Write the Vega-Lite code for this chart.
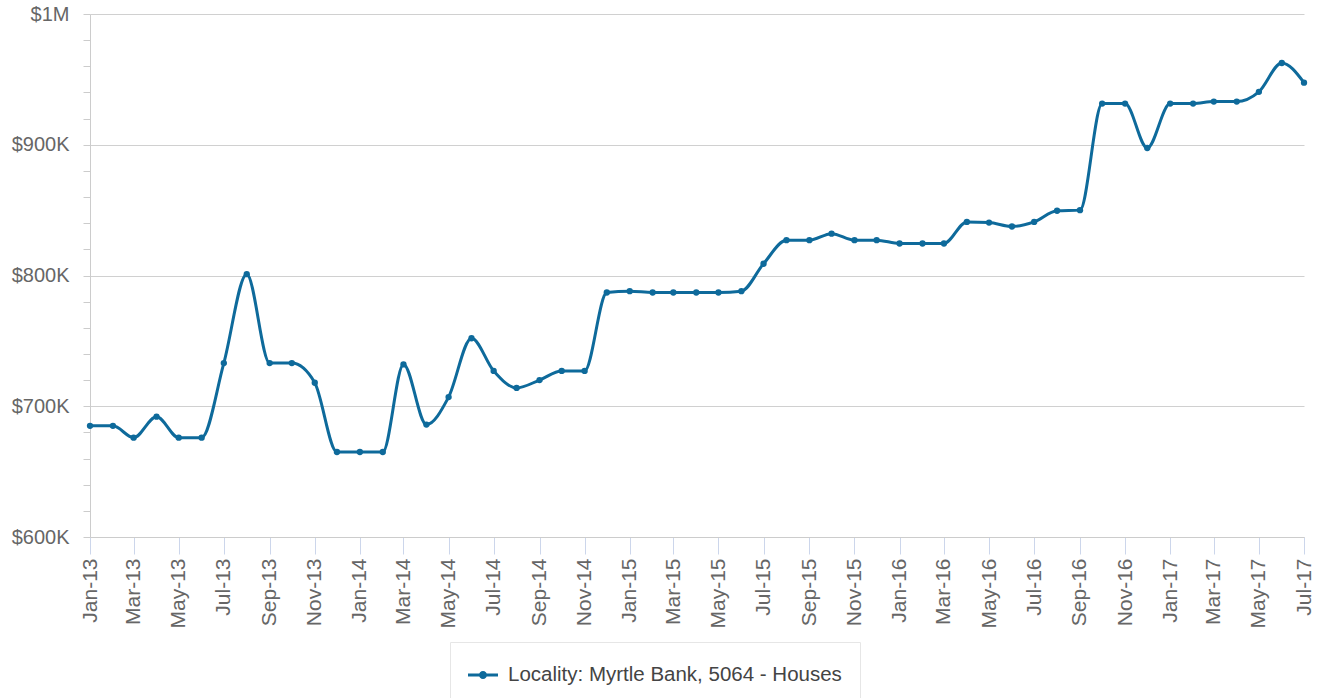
{
  "$schema": "https://vega.github.io/schema/vega-lite/v6.json",
  "autosize": "none",
  "width": 1214,
  "height": 523,
  "padding": {"left": 90, "top": 14, "right": 16, "bottom": 161},
  "background": "white",
  "config": {
    "view": {"stroke": null},
    "font": "Liberation Sans"
  },
  "data": {
    "values": [
      {"date": "2013/01/01", "price": 685000, "series": "Locality: Myrtle Bank, 5064 - Houses"},
      {"date": "2013/02/01", "price": 685000, "series": "Locality: Myrtle Bank, 5064 - Houses"},
      {"date": "2013/03/01", "price": 676000, "series": "Locality: Myrtle Bank, 5064 - Houses"},
      {"date": "2013/04/01", "price": 692000, "series": "Locality: Myrtle Bank, 5064 - Houses"},
      {"date": "2013/05/01", "price": 676000, "series": "Locality: Myrtle Bank, 5064 - Houses"},
      {"date": "2013/06/01", "price": 676000, "series": "Locality: Myrtle Bank, 5064 - Houses"},
      {"date": "2013/07/01", "price": 733000, "series": "Locality: Myrtle Bank, 5064 - Houses"},
      {"date": "2013/08/01", "price": 801000, "series": "Locality: Myrtle Bank, 5064 - Houses"},
      {"date": "2013/09/01", "price": 733000, "series": "Locality: Myrtle Bank, 5064 - Houses"},
      {"date": "2013/10/01", "price": 733000, "series": "Locality: Myrtle Bank, 5064 - Houses"},
      {"date": "2013/11/01", "price": 718000, "series": "Locality: Myrtle Bank, 5064 - Houses"},
      {"date": "2013/12/01", "price": 665000, "series": "Locality: Myrtle Bank, 5064 - Houses"},
      {"date": "2014/01/01", "price": 665000, "series": "Locality: Myrtle Bank, 5064 - Houses"},
      {"date": "2014/02/01", "price": 665000, "series": "Locality: Myrtle Bank, 5064 - Houses"},
      {"date": "2014/03/01", "price": 732000, "series": "Locality: Myrtle Bank, 5064 - Houses"},
      {"date": "2014/04/01", "price": 686000, "series": "Locality: Myrtle Bank, 5064 - Houses"},
      {"date": "2014/05/01", "price": 707000, "series": "Locality: Myrtle Bank, 5064 - Houses"},
      {"date": "2014/06/01", "price": 752000, "series": "Locality: Myrtle Bank, 5064 - Houses"},
      {"date": "2014/07/01", "price": 727000, "series": "Locality: Myrtle Bank, 5064 - Houses"},
      {"date": "2014/08/01", "price": 714000, "series": "Locality: Myrtle Bank, 5064 - Houses"},
      {"date": "2014/09/01", "price": 720000, "series": "Locality: Myrtle Bank, 5064 - Houses"},
      {"date": "2014/10/01", "price": 727000, "series": "Locality: Myrtle Bank, 5064 - Houses"},
      {"date": "2014/11/01", "price": 727000, "series": "Locality: Myrtle Bank, 5064 - Houses"},
      {"date": "2014/12/01", "price": 787000, "series": "Locality: Myrtle Bank, 5064 - Houses"},
      {"date": "2015/01/01", "price": 788000, "series": "Locality: Myrtle Bank, 5064 - Houses"},
      {"date": "2015/02/01", "price": 787000, "series": "Locality: Myrtle Bank, 5064 - Houses"},
      {"date": "2015/03/01", "price": 787000, "series": "Locality: Myrtle Bank, 5064 - Houses"},
      {"date": "2015/04/01", "price": 787000, "series": "Locality: Myrtle Bank, 5064 - Houses"},
      {"date": "2015/05/01", "price": 787000, "series": "Locality: Myrtle Bank, 5064 - Houses"},
      {"date": "2015/06/01", "price": 788000, "series": "Locality: Myrtle Bank, 5064 - Houses"},
      {"date": "2015/07/01", "price": 809000, "series": "Locality: Myrtle Bank, 5064 - Houses"},
      {"date": "2015/08/01", "price": 827000, "series": "Locality: Myrtle Bank, 5064 - Houses"},
      {"date": "2015/09/01", "price": 827000, "series": "Locality: Myrtle Bank, 5064 - Houses"},
      {"date": "2015/10/01", "price": 832000, "series": "Locality: Myrtle Bank, 5064 - Houses"},
      {"date": "2015/11/01", "price": 827000, "series": "Locality: Myrtle Bank, 5064 - Houses"},
      {"date": "2015/12/01", "price": 827000, "series": "Locality: Myrtle Bank, 5064 - Houses"},
      {"date": "2016/01/01", "price": 824500, "series": "Locality: Myrtle Bank, 5064 - Houses"},
      {"date": "2016/02/01", "price": 824500, "series": "Locality: Myrtle Bank, 5064 - Houses"},
      {"date": "2016/03/01", "price": 824500, "series": "Locality: Myrtle Bank, 5064 - Houses"},
      {"date": "2016/04/01", "price": 841000, "series": "Locality: Myrtle Bank, 5064 - Houses"},
      {"date": "2016/05/01", "price": 840500, "series": "Locality: Myrtle Bank, 5064 - Houses"},
      {"date": "2016/06/01", "price": 837500, "series": "Locality: Myrtle Bank, 5064 - Houses"},
      {"date": "2016/07/01", "price": 841000, "series": "Locality: Myrtle Bank, 5064 - Houses"},
      {"date": "2016/08/01", "price": 849500, "series": "Locality: Myrtle Bank, 5064 - Houses"},
      {"date": "2016/09/01", "price": 850000, "series": "Locality: Myrtle Bank, 5064 - Houses"},
      {"date": "2016/10/01", "price": 931500, "series": "Locality: Myrtle Bank, 5064 - Houses"},
      {"date": "2016/11/01", "price": 931500, "series": "Locality: Myrtle Bank, 5064 - Houses"},
      {"date": "2016/12/01", "price": 897500, "series": "Locality: Myrtle Bank, 5064 - Houses"},
      {"date": "2017/01/01", "price": 931500, "series": "Locality: Myrtle Bank, 5064 - Houses"},
      {"date": "2017/02/01", "price": 931500, "series": "Locality: Myrtle Bank, 5064 - Houses"},
      {"date": "2017/03/01", "price": 933000, "series": "Locality: Myrtle Bank, 5064 - Houses"},
      {"date": "2017/04/01", "price": 933000, "series": "Locality: Myrtle Bank, 5064 - Houses"},
      {"date": "2017/05/01", "price": 940500, "series": "Locality: Myrtle Bank, 5064 - Houses"},
      {"date": "2017/06/01", "price": 962500, "series": "Locality: Myrtle Bank, 5064 - Houses"},
      {"date": "2017/07/01", "price": 947500, "series": "Locality: Myrtle Bank, 5064 - Houses"}
    ]
  },
  "encoding": {
    "x": {
      "field": "date",
      "type": "temporal",
      "scale": {
        "domain": [{"year": 2013, "month": 1, "date": 1}, {"year": 2017, "month": 7, "date": 1}],
        "nice": false
      },
      "axis": {
        "title": null,
        "format": "%b-%y",
        "tickCount": {"interval": "month", "step": 2},
        "labelAngle": -90,
        "labelFontSize": 21,
        "labelColor": "#666666",
        "labelPadding": 4,
        "labelOverlap": false,
        "labelFlush": false,
        "grid": false,
        "domain": true,
        "domainColor": "#cccccc",
        "tickColor": "#ccd6eb",
        "tickSize": 17
      }
    },
    "y": {
      "field": "price",
      "type": "quantitative",
      "scale": {"domain": [600000, 1000000], "nice": false, "zero": false},
      "axis": {
        "title": null,
        "values": [600000, 620000, 640000, 660000, 680000, 700000, 720000, 740000, 760000, 780000, 800000, 820000, 840000, 860000, 880000, 900000, 920000, 940000, 960000, 980000, 1000000],
        "labelExpr": "datum.value % 100000 === 0 ? (datum.value >= 1000000 ? '$1M' : '$' + format(datum.value / 1000, 'd') + 'K') : ''",
        "labelOverlap": false,
        "labelFontSize": 20,
        "labelColor": "#666666",
        "labelPadding": 14,
        "labelFlush": false,
        "domain": true,
        "domainColor": "#cccccc",
        "tickColor": "#cccccc",
        "tickSize": 7,
        "grid": true,
        "gridColor": "#d0d0d0",
        "gridOpacity": {"condition": {"test": "datum.value % 100000 === 0", "value": 1}, "value": 0}
      }
    },
    "color": {
      "field": "series",
      "type": "nominal",
      "scale": {"range": ["#0e6a9b"]},
      "legend": {
        "title": null,
        "orient": "none",
        "legendX": 360,
        "legendY": 628,
        "padding": 18,
        "strokeColor": "#e6e6e6",
        "fillColor": "#ffffff",
        "labelFontSize": 20.5,
        "labelColor": "#444444",
        "labelOffset": 10,
        "labelLimit": 600,
        "symbolSize": 900,
        "symbolType": "M-1,-0.1L-0.25,-0.1L-0.25,0.1L-1,0.1Z M0.27,0A0.27,0.27 0 1,1 -0.27,0A0.27,0.27 0 1,1 0.27,0Z M0.25,-0.1L1,-0.1L1,0.1L0.25,0.1Z",
        "encode": {
          "symbols": {
            "update": {
              "fill": {"value": "#0e6a9b"},
              "fillOpacity": {"value": 1},
              "strokeWidth": {"value": 0}
            }
          }
        }
      }
    }
  },
  "layer": [
    {
      "mark": {"type": "line", "interpolate": "monotone", "strokeWidth": 3}
    },
    {
      "mark": {"type": "point", "filled": true, "size": 40, "opacity": 1}
    }
  ]
}
